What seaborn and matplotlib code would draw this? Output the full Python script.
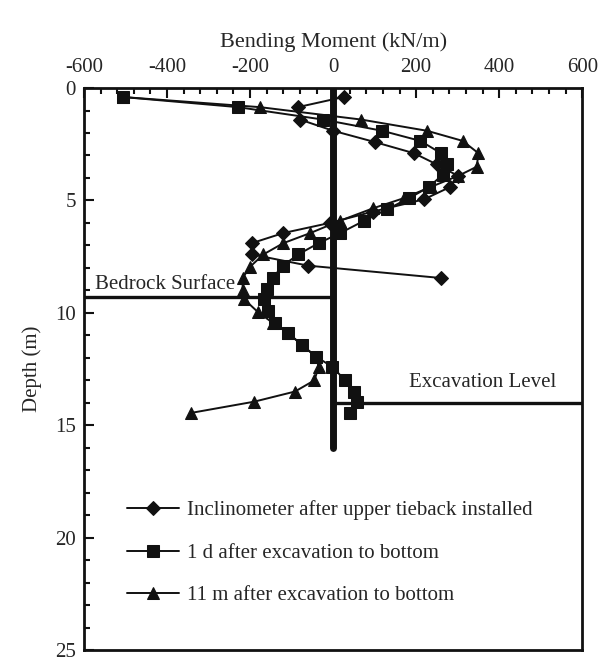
import numpy as np
import pandas as pd
import matplotlib.pyplot as plt
import seaborn as sns

# ---- data (bending moment kN/m vs depth m) -------------------------------
incl_depth = [0.4, 0.85, 1.4, 1.9, 2.4, 2.9, 3.4, 3.9, 4.4, 4.95, 5.5, 6.0, 6.45, 6.9, 7.4, 7.9, 8.45]
incl_moment = [25, -85, -80, 0, 100, 195, 250, 300, 282, 219, 95, -8, -120, -196, -196, -60, 260]

d1_depth = [0.4, 0.85, 1.4, 1.9, 2.35, 2.9, 3.4, 3.85, 4.4, 4.9, 5.4, 5.9, 6.45, 6.9, 7.4,
            7.9, 8.45, 8.95, 9.4, 9.9, 10.45, 10.9, 11.45, 11.95, 12.4, 13.0, 13.5, 13.95, 14.45]
d1_moment = [-506, -229, -25, 118, 210, 260, 274, 264, 231, 183, 129, 75, 17, -35, -84,
             -121, -146, -160, -166, -156, -140, -108, -74, -41, -2, 29, 51, 57, 41]

m11_depth = [0.4, 0.85, 1.4, 1.9, 2.35, 2.9, 3.5, 3.9, 4.4, 4.9, 5.35, 5.9, 6.45, 6.9, 7.4,
             7.95, 8.45, 9.0, 9.4, 9.95, 10.45, 10.9, 11.45, 11.95, 12.4, 13.0, 13.5, 13.95, 14.45]
m11_moment = [-506, -176, 67, 226, 312, 350, 346, 302, 235, 170, 96, 17, -55, -120, -168,
              -200, -218, -218, -214, -182, -145, -108, -74, -41, -35, -45, -92, -190, -342]

labels = ["Inclinometer after upper tieback installed",
          "1 d after excavation to bottom",
          "11 m after excavation to bottom"]

sns.set_style("ticks")
plt.rcParams.update({"font.family": ["Liberation Serif", "DejaVu Serif"], "font.size": 15,
                     "axes.unicode_minus": False})

fig = plt.figure(figsize=(6.09, 6.62), dpi=100)
ax = fig.add_axes([0.138, 0.018, 0.818, 0.849])

series = [(incl_moment, incl_depth, "D", 7), (d1_moment, d1_depth, "s", 8), (m11_moment, m11_depth, "^", 8.5)]
for (x, y, mk, ms), lab in zip(series, labels):
    sns.lineplot(x=x, y=y, sort=False, estimator=None, color="#111111", lw=1.4,
                 marker=mk, markersize=ms, markeredgecolor="#111111", label=lab, ax=ax)

# wall, bedrock surface and excavation level
ax.plot([0, 0], [0, 16], color="#111111", lw=5, solid_capstyle="round", zorder=1)
ax.plot([-600, 0], [9.3, 9.3], color="#111111", lw=2.4, zorder=1)
ax.plot([0, 600], [14.0, 14.0], color="#111111", lw=2.4, zorder=1)
ax.text(-574, 8.75, "Bedrock Surface", fontsize=15, va="center", ha="left")
ax.text(183, 13.1, "Excavation Level", fontsize=15, va="center", ha="left")

ax.set_xlim(-600, 600)
ax.set_ylim(25, 0)
ax.xaxis.tick_top()
ax.xaxis.set_label_position("top")
ax.set_xticks(np.arange(-600, 601, 200))
ax.set_xticks(np.arange(-600, 601, 40), minor=True)
ax.set_yticks(np.arange(0, 26, 5))
ax.set_yticks(np.arange(0, 26, 1), minor=True)
ax.tick_params(which="both", direction="in", width=1.5, color="#111111", labelsize=15)
ax.tick_params(which="major", length=7)
ax.tick_params(which="minor", length=4)
ax.tick_params(axis="x", pad=8)
ax.tick_params(axis="y", pad=6)
ax.set_xlabel("Bending Moment (kN/m)", fontsize=16, labelpad=8)
ax.set_ylabel("Depth (m)", fontsize=15, labelpad=9)
for s in ax.spines.values():
    s.set_linewidth(2)
    s.set_color("#111111")

ax.legend(loc="center left", bbox_to_anchor=(0.066, 0.173), frameon=False, borderpad=0,
          handlelength=2.5, handletextpad=0.35, labelspacing=1.1, fontsize=15)

fig.savefig("out.png", dpi=100)
